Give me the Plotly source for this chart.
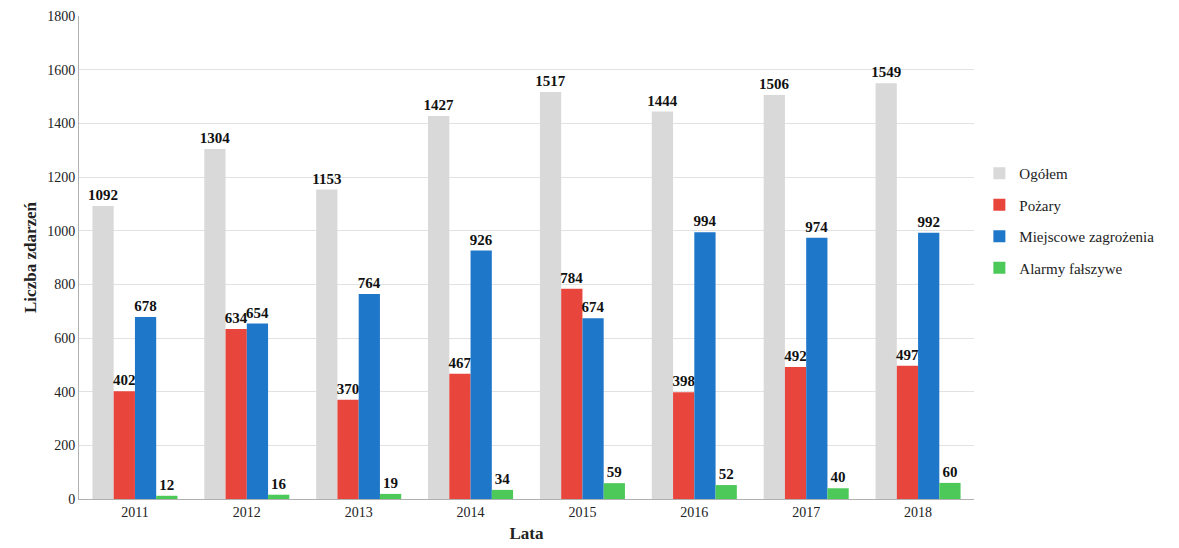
import plotly.graph_objects as go

years = ["2011", "2012", "2013", "2014", "2015", "2016", "2017", "2018"]
ogolem = [1092, 1304, 1153, 1427, 1517, 1444, 1506, 1549]
pozary = [402, 634, 370, 467, 784, 398, 492, 497]
miejscowe = [678, 654, 764, 926, 674, 994, 974, 992]
alarmy = [12, 16, 19, 34, 59, 52, 40, 60]

series = [
    ("Ogółem", ogolem, "#d9d9d9"),
    ("Pożary", pozary, "#e8463c"),
    ("Miejscowe zagrożenia", miejscowe, "#1f77c9"),
    ("Alarmy fałszywe", alarmy, "#4cc959"),
]

font_family = "Liberation Serif"
fig = go.Figure()
for name, vals, color in series:
    fig.add_trace(go.Bar(
        x=years, y=vals, name=name, legendgroup=name,
        marker=dict(color=color, line=dict(width=0)),
        text=[str(v) for v in vals],
        textposition="outside",
        constraintext="none",
        textfont=dict(family=font_family, size=15, color="#111111"),
        texttemplate="<b>%{text}</b>",
        cliponaxis=False,
    ))

fig.update_layout(
    width=1163, height=540,
    margin=dict(l=71, r=197, t=8, b=49),
    paper_bgcolor="white", plot_bgcolor="white",
    barmode="group", bargap=0.24, bargroupgap=0.0,
    font=dict(family=font_family, size=14, color="#222222"),
    legend=dict(x=1.006, y=0.708, xanchor="left", yanchor="top",
                font=dict(family=font_family, size=15, color="#222222"),
                tracegroupgap=9),
    xaxis=dict(
        title=dict(text="<b>Lata</b>", font=dict(size=17, family=font_family), standoff=8),
        tickfont=dict(family=font_family, size=14),
        automargin=False,
        showline=True, linecolor="#b0b0b0", linewidth=1,
    ),
    yaxis=dict(
        title=dict(text="<b>Liczba zdarzeń</b>", font=dict(size=17, family=font_family), standoff=6),
        range=[0, 1800], dtick=200,
        tickfont=dict(family=font_family, size=14),
        automargin=False,
        gridcolor="#e2e2e2", gridwidth=1,
        showline=True, linecolor="#b0b0b0", linewidth=1,
        zeroline=False,
    ),
)

fig.write_html("out.html")
